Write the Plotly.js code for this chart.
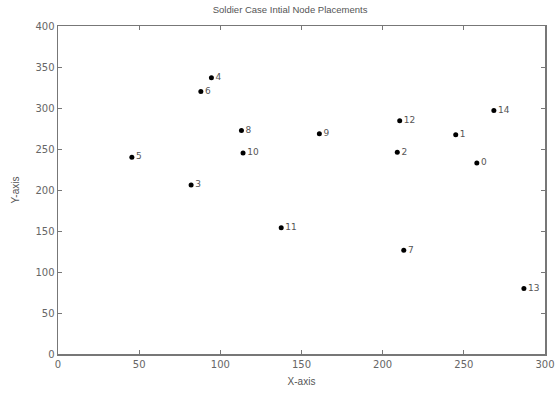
<!DOCTYPE html>
<html><head><meta charset="utf-8">
<script src="https://cdn.plot.ly/plotly-3.0.1.min.js"></script>
<style>html,body{margin:0;padding:0;background:#fff}#chart{width:560px;height:393px}</style>
</head><body><div id="chart"></div>
<script>
const nodeIds = ["0","1","2","3","4","5","6","7","8","9","10","11","12","13","14"];
const xValues = [258, 245, 209, 82, 94.5, 45.5, 88, 213, 113, 161, 114, 137.5, 210.5, 287, 268.5];
const yValues = [233, 267.5, 246, 206, 337, 240, 320, 126.5, 272.5, 268.5, 245, 154, 284.5, 80, 297];
const xTicks = [0, 50, 100, 150, 200, 250, 300];
const yTicks = [0, 50, 100, 150, 200, 250, 300, 350, 400];

const trace = {
  x: xValues, y: yValues, text: nodeIds,
  type: 'scatter', mode: 'markers+text', textposition: 'middle right',
  marker: {color: '#000', size: 5},
  textfont: {family: 'DejaVu Sans, sans-serif', size: 9, color: '#555'},
  hoverinfo: 'none', cliponaxis: false
};
const axisCommon = {
  showgrid: false, zeroline: false, showline: true, linecolor: '#777', linewidth: 1.5,
  mirror: 'ticks', ticks: 'inside', ticklen: 4, tickcolor: '#777', tickwidth: 1,
  tickfont: {family: 'DejaVu Sans, sans-serif', size: 10, color: '#666'}
};
const layout = {
  width: 560, height: 393,
  margin: {l: 58, r: 15, t: 26, b: 39},
  paper_bgcolor: '#fff', plot_bgcolor: '#fff',
  showlegend: false,
  title: {text: 'Soldier Case Intial Node Placements', x: 0.518, xanchor: 'center', y: 0.975, yanchor: 'middle',
    font: {family: 'Liberation Sans, Arial, sans-serif', size: 9.5, color: '#555'}},
  xaxis: Object.assign({}, axisCommon, {range: [0, 300], tickvals: xTicks, ticktext: xTicks.map(String),
    title: {text: 'X-axis', standoff: 9, font: {family: 'Liberation Sans, Arial, sans-serif', size: 10, color: '#555'}}}),
  yaxis: Object.assign({}, axisCommon, {range: [0, 400], tickvals: yTicks, ticktext: yTicks.map(String),
    title: {text: 'Y-axis', standoff: 14, font: {family: 'Liberation Sans, Arial, sans-serif', size: 10, color: '#555'}}})
};
Plotly.newPlot('chart', [trace], layout, {displayModeBar: false, staticPlot: true});
</script></body></html>
